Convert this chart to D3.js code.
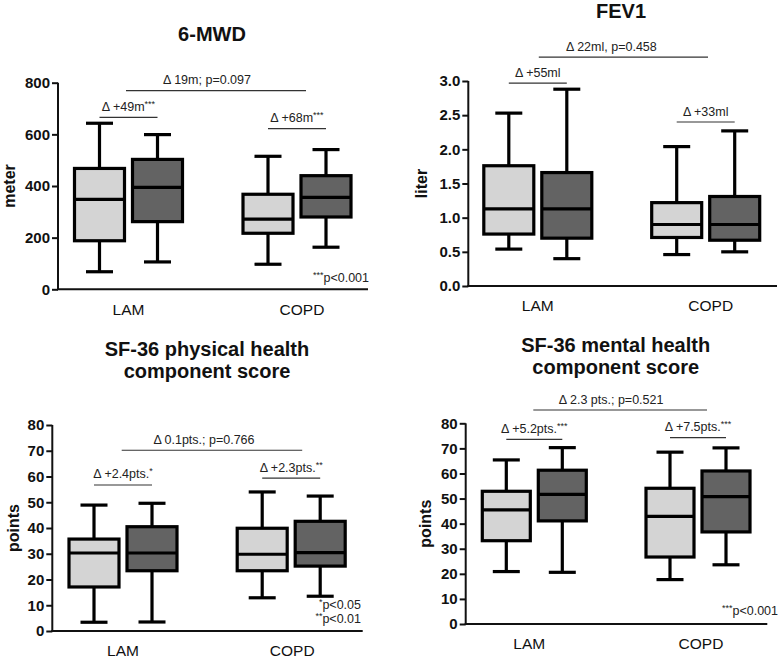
<!DOCTYPE html>
<html>
<head>
<meta charset="utf-8">
<script src="https://cdn.jsdelivr.net/npm/d3@7/dist/d3.min.js"></script>
<style>
  html, body { margin: 0; padding: 0; background: #fff; }
  svg { display: block; font-family: "Liberation Sans", Arial, Helvetica, sans-serif; }
  .ytick text { font-size: 15px !important; font-weight: bold !important; font-family: "Liberation Sans", Arial, sans-serif !important; fill: #111; }
</style>
</head>
<body>
<svg id="chart" width="778" height="658"></svg>
<script>
// ---------------- DATA ----------------
const categories = ["LAM", "COPD"];
const series = ["baseline", "follow-up"];
// each row: [min, q1, median, q3, max]; order LAM-baseline, LAM-follow-up, COPD-baseline, COPD-follow-up
const mwdStats  = [[68, 188, 348, 468, 643], [106, 262, 395, 503, 599], [97, 217, 272, 368, 515], [163, 280, 356, 440, 541]];
const fev1Stats = [[0.54, 0.76, 1.13, 1.76, 2.53], [0.40, 0.70, 1.13, 1.66, 2.88], [0.46, 0.71, 0.90, 1.22, 2.04], [0.50, 0.67, 0.90, 1.31, 2.27]];
const pcsStats  = [[3.4, 17.1, 30.3, 35.7, 48.9], [3.5, 23.4, 30.3, 40.5, 49.6], [12.9, 23.4, 29.8, 39.9, 54.0], [13.5, 25.2, 30.4, 42.6, 52.4]];
const mcsStats  = [[20.9, 33.2, 45.5, 52.9, 65.4], [20.6, 41.1, 51.7, 61.3, 70.3], [17.7, 26.7, 42.9, 54.1, 68.5], [23.6, 36.7, 50.8, 61.0, 70.2]];

const mwdTicks  = [0, 200, 400, 600, 800];
const fev1Ticks = [0, 0.5, 1.0, 1.5, 2.0, 2.5, 3.0];
const sfTicks   = [0, 10, 20, 30, 40, 50, 60, 70, 80];

const titles = [["6-MWD"], ["FEV1"], ["SF-36 physical health", "component score"], ["SF-36 mental health", "component score"]];
const yTitles = ["meter", "liter", "points", "points"];

// annotations: [overall, LAM, COPD]
const mwdNotes  = ["Δ 19m; p=0.097", "Δ +49m", "Δ +68m"];
const mwdStars  = ["", "***", "***"];
const mwdLevels = [769, 666, 622];
const fev1Notes  = ["Δ 22ml, p=0.458", "Δ +55ml", "Δ +33ml"];
const fev1Stars  = ["", "", ""];
const fev1Levels = [3.35, 2.97, 2.40];
const pcsNotes  = ["Δ 0.1pts.; p=0.766", "Δ +2.4pts.", "Δ +2.3pts."];
const pcsStars  = ["", "*", "**"];
const pcsLevels = [70.2, 56.7, 59.4];
const mcsNotes  = ["Δ 2.3 pts.; p=0.521", "Δ +5.2pts.", "Δ +7.5pts."];
const mcsStars  = ["", "***", "***"];
const mcsLevels = [85.3, 73.6, 74.3];

const mwdFoot  = [["***", "p<0.001"]];
const fev1Foot = [];
const pcsFoot  = [["*", "p<0.05"], ["**", "p<0.01"]];
const mcsFoot  = [["***", "p<0.001"]];

const fills = ["#d4d4d4", "#636363"];

// ---------------- LAYOUT ----------------
const panels = [
  { stats: mwdStats, ticks: mwdTicks, fmt: d3.format("d"), domain: [0, 800], notes: mwdNotes, stars: mwdStars, levels: mwdLevels, foot: mwdFoot,
    title: titles[0], yTitle: yTitles[0],
    axisX: 58, top: 82.7, bottom: 289.3, right: 368, groups: [128.5, 297], half: 54, bw: 50,
    titleX: 212, titleY: 41, yTitleX: 9, catY: 314.5, catDx: [0, 5], mainExt: [-2.5, 9], mainDx: -9,
    footX: 369, footY: [282] },
  { stats: fev1Stats, ticks: fev1Ticks, fmt: d3.format(".1f"), domain: [0, 3], notes: fev1Notes, stars: fev1Stars, levels: fev1Levels, foot: fev1Foot,
    title: titles[1], yTitle: yTitles[1],
    axisX: 468.3, top: 81, bottom: 286, right: 777, groups: [537.8, 705.7], half: 54, bw: 50,
    titleX: 621, titleY: 17.5, yTitleX: 421, catY: 310.5, catDx: [0, 5], mainExt: [1, 2.3], mainDx: -12,
    footX: 777, footY: [] },
  { stats: pcsStats, ticks: sfTicks, fmt: d3.format("d"), domain: [0, 80], notes: pcsNotes, stars: pcsStars, levels: pcsLevels, foot: pcsFoot,
    title: titles[2], yTitle: yTitles[2],
    axisX: 52.3, top: 425, bottom: 631, right: 362.7, groups: [123, 291.2], half: 54, bw: 50,
    titleX: 207, titleY: 356, yTitleX: 13.5, catY: 655.5, catDx: [0, 1], mainExt: [-1.3, 11], mainDx: -8,
    footX: 361, footY: [608.5, 622.5] },
  { stats: mcsStats, ticks: sfTicks, fmt: d3.format("d"), domain: [0, 80], notes: mcsNotes, stars: mcsStars, levels: mcsLevels, foot: mcsFoot,
    title: titles[3], yTitle: yTitles[3],
    axisX: 465.7, top: 423.3, bottom: 624, right: 767.3, groups: [534.3, 698], half: 52, bw: 48,
    titleX: 615.7, titleY: 351.7, yTitleX: 425, catY: 649, catDx: [-5, 3], mainExt: [-1, 9], mainDx: -9,
    footX: 778, footY: [615] }
];

const svg = d3.select("#chart");

panels.forEach(p => {
  const g = svg.append("g");
  const y = d3.scaleLinear().domain(p.domain).range([p.bottom, p.top]);
  const x = d3.scalePoint().domain(categories).range(p.groups);
  // series offsets within a category group
  const subC = d3.scalePoint().domain(series).range([-(p.half - p.bw / 2), p.half - p.bw / 2]);

  // Title
  const t = g.append("text").attr("x", p.titleX).attr("y", p.titleY)
    .attr("text-anchor", "middle").style("font-size", "20px").style("font-weight", "bold").attr("fill", "#111");
  p.title.forEach((line, i) => {
    t.append("tspan").attr("x", p.titleX).attr("dy", i === 0 ? 0 : 22.3).text(line);
  });

  // Y axis
  const yAxis = d3.axisLeft(y).tickValues(p.ticks).tickFormat(p.fmt).tickSize(6).tickPadding(2);
  const ya = g.append("g").attr("class", "ytick").attr("transform", `translate(${p.axisX},0)`).call(yAxis);
  ya.attr("font-size", null).attr("font-family", null);
  ya.select(".domain").attr("stroke", "#111").attr("stroke-width", 2).attr("d", `M0,${p.top}V${p.bottom}`);
  ya.selectAll(".tick line").attr("stroke", "#111").attr("stroke-width", 2);
  ya.selectAll(".tick text").style("font-size", "15px").style("font-weight", "bold").attr("fill", "#111");

  // X axis line
  g.append("line").attr("x1", p.axisX - 1).attr("x2", p.right).attr("y1", y(0)).attr("y2", y(0))
    .attr("stroke", "#111").attr("stroke-width", 2);

  // Y title
  g.append("text").attr("transform", `translate(${p.yTitleX},${(p.top + p.bottom) / 2}) rotate(-90)`)
    .attr("text-anchor", "middle").attr("dominant-baseline", "central")
    .style("font-size", "16px").style("font-weight", "bold").attr("fill", "#111").text(p.yTitle);

  // Category labels
  categories.forEach((c, i) => {
    g.append("text").attr("x", x(c) + p.catDx[i]).attr("y", p.catY).attr("text-anchor", "middle")
      .style("font-size", "15.5px").attr("fill", "#111").text(c);
  });

  // Boxes
  const boxes = [];
  categories.forEach((c, ci) => series.forEach((s, si) => {
    boxes.push({ cx: x(c) + subC(s), st: p.stats[ci * 2 + si], fill: fills[si] });
  }));
  boxes.forEach(b => {
    const [mn, q1, md, q3, mx] = b.st;
    const bg = g.append("g").attr("stroke", "#000").attr("stroke-width", 3.2);
    bg.append("line").attr("x1", b.cx).attr("x2", b.cx).attr("y1", y(mx)).attr("y2", y(q3));
    bg.append("line").attr("x1", b.cx).attr("x2", b.cx).attr("y1", y(q1)).attr("y2", y(mn));
    bg.append("line").attr("x1", b.cx - 13.5).attr("x2", b.cx + 13.5).attr("y1", y(mx)).attr("y2", y(mx));
    bg.append("line").attr("x1", b.cx - 13.5).attr("x2", b.cx + 13.5).attr("y1", y(mn)).attr("y2", y(mn));
    bg.append("rect").attr("x", b.cx - p.bw / 2).attr("width", p.bw)
      .attr("y", y(q3)).attr("height", y(q1) - y(q3)).attr("fill", b.fill);
    bg.append("line").attr("x1", b.cx - p.bw / 2).attr("x2", b.cx + p.bw / 2).attr("y1", y(md)).attr("y2", y(md));
  });

  // Annotations
  const noteText = (tx, ty, label, stars) => {
    const el = g.append("text").attr("x", tx).attr("y", ty).attr("text-anchor", "middle")
      .style("font-size", "12.5px").attr("fill", "#222");
    el.append("tspan").text(label);
    if (stars) el.append("tspan").style("font-size", "9px").attr("dy", -4).text(stars);
  };
  // overall comparison
  {
    const x1 = x(categories[0]) + p.mainExt[0], x2 = x(categories[1]) + p.mainExt[1];
    const ly = y(p.levels[0]);
    g.append("line").attr("x1", x1).attr("x2", x2).attr("y1", ly).attr("y2", ly).attr("stroke", "#333").attr("stroke-width", 1.2);
    noteText((x1 + x2) / 2 + p.mainDx, ly - 6.5, p.notes[0], p.stars[0]);
  }
  categories.forEach((c, i) => {
    const x1 = x(c) + subC(series[0]), x2 = x(c) + subC(series[1]);
    const ly = y(p.levels[i + 1]);
    g.append("line").attr("x1", x1).attr("x2", x2).attr("y1", ly).attr("y2", ly).attr("stroke", "#333").attr("stroke-width", 1.2);
    noteText((x1 + x2) / 2, ly - 6.5, p.notes[i + 1], p.stars[i + 1]);
  });

  // Footnotes
  p.foot.forEach((f, i) => {
    const el = g.append("text").attr("x", p.footX).attr("y", p.footY[i]).attr("text-anchor", "end")
      .style("font-size", "12.5px").attr("fill", "#222");
    el.append("tspan").style("font-size", "9px").attr("dy", -4).text(f[0]);
    el.append("tspan").attr("dy", 4).text(f[1]);
  });
});
</script>
</body>
</html>
